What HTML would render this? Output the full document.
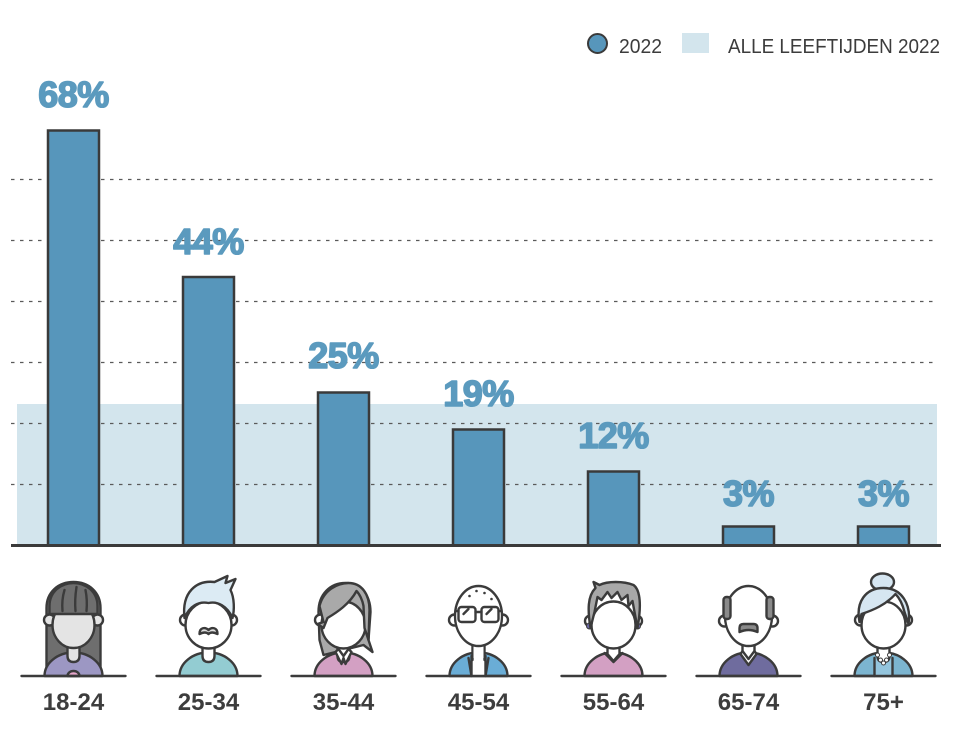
<!DOCTYPE html>
<html><head><meta charset="utf-8"><style>
html,body{margin:0;padding:0;background:#fff;}
svg{display:block;}
.pct{font-family:"Liberation Sans",sans-serif;font-weight:bold;font-size:36px;fill:#5b9abe;stroke:#5b9abe;stroke-width:1.6;stroke-linejoin:round;text-anchor:middle;letter-spacing:-0.5px;}
.age{font-family:"Liberation Sans",sans-serif;font-weight:bold;font-size:24px;fill:#3d3d3d;text-anchor:middle;}
.leg{font-family:"Liberation Sans",sans-serif;font-size:20px;fill:#3c3c3c;}
.s{stroke:#3b3b3b;stroke-width:2.4;stroke-linejoin:round;stroke-linecap:round;}
</style></head><body>
<svg width="964" height="734" viewBox="0 0 964 734" xmlns="http://www.w3.org/2000/svg">
<!-- legend -->
<circle cx="597.5" cy="43.5" r="9.5" fill="#5796bb" stroke="#3a3a3a" stroke-width="2"/>
<text class="leg" x="619" y="53" textLength="43" lengthAdjust="spacingAndGlyphs">2022</text>
<rect x="682" y="33" width="27" height="20" fill="#d3e5ed"/>
<text class="leg" x="728" y="53" textLength="212" lengthAdjust="spacingAndGlyphs">ALLE LEEFTIJDEN 2022</text>

<!-- band -->
<rect x="17" y="404" width="920" height="141" fill="#d3e5ed"/>
<!-- gridlines -->
<g stroke="#5a5a5a" stroke-width="1.2" stroke-dasharray="3.5 5.5">
<line x1="11" y1="179.5" x2="937" y2="179.5"/>
<line x1="11" y1="240.5" x2="937" y2="240.5"/>
<line x1="11" y1="301.5" x2="937" y2="301.5"/>
<line x1="11" y1="362.5" x2="937" y2="362.5"/>
<line x1="11" y1="423.5" x2="937" y2="423.5"/>
<line x1="11" y1="484.5" x2="937" y2="484.5"/>
</g>
<!-- bars -->
<g fill="#5796bb" stroke="#3a3a3a" stroke-width="2.5">
<rect x="48" y="130.5" width="51" height="415"/>
<rect x="183" y="277" width="51" height="268.5"/>
<rect x="318" y="392.5" width="51" height="153"/>
<rect x="453" y="429.5" width="51" height="116"/>
<rect x="588" y="471.5" width="51" height="74"/>
<rect x="723" y="526.5" width="51" height="19"/>
<rect x="858" y="526.5" width="51" height="19"/>
</g>
<line x1="11" y1="545.5" x2="941" y2="545.5" stroke="#3a3a3a" stroke-width="3"/>
<!-- value labels -->
<text class="pct" x="73.5" y="107">68%</text>
<text class="pct" x="208.5" y="254">44%</text>
<text class="pct" x="343.5" y="368">25%</text>
<text class="pct" x="478.5" y="406">19%</text>
<text class="pct" x="613.5" y="448">12%</text>
<text class="pct" x="748.5" y="506">3%</text>
<text class="pct" x="883.5" y="506">3%</text>

<!-- avatars -->
<!-- 18-24 -->
<g transform="translate(73.5,0)">
<path class="s" fill="#6e6e6e" d="M-27,670 L-27,608 C-27,592 -15,582 0,582 C15,582 27,592 27,608 L27,670 Z"/>
<path class="s" fill="#9c97c3" d="M-29,676 A29,23.5 0 0 1 29,676 Z"/>
<path class="s" fill="#e4e4e4" d="M-6,640 L-6,656 Q-6,662 0,662 Q6,662 6,656 L6,640"/>
<circle class="s" fill="#e4e4e4" cx="-24" cy="620" r="5.5"/>
<circle class="s" fill="#e4e4e4" cx="24" cy="620" r="5.5"/>
<ellipse class="s" fill="#e4e4e4" cx="0" cy="625" rx="21" ry="23"/>
<path class="s" fill="#6e6e6e" d="M-24,614 L-24,606 C-24,592 -13,583 0,583 C13,583 24,592 24,606 L24,614 Z"/>
<path class="s" fill="none" d="M-9,590 Q-12,600 -11,611 M3,587 Q1,600 2,611 M12,590 Q14,600 13,611"/>
<path class="s" fill="#e7a6cb" d="M-6,676 A6,5 0 0 1 6,676 Z"/>
<line class="s" x1="-52" y1="676" x2="52" y2="676" stroke-width="2.6"/>
</g>
<!-- 25-34 -->
<g transform="translate(208.5,0)">
<path class="s" fill="#93ccd2" d="M-29,676 A29,23.5 0 0 1 29,676 Z"/>
<path class="s" fill="#fff" d="M-6,640 L-6,656 Q-6,662 0,662 Q6,662 6,656 L6,640"/>
<circle class="s" fill="#fff" cx="-23" cy="620" r="5.5"/>
<circle class="s" fill="#fff" cx="23" cy="620" r="5.5"/>
<ellipse class="s" fill="#fff" cx="0" cy="625" rx="23" ry="23.5"/>
<path class="s" fill="#dcebf4" d="M-24,618 C-27,592 -12,580 6,582 L19,576 L17,583 L27,579 L22,590 C26,598 26,610 24,618 C19,606 9,601 0,603 C-10,601 -19,606 -24,618 Z"/>
<path class="s" fill="#dedede" stroke-width="2" d="M-9,634 C-9,627 -3,627 0,630 C3,627 9,627 9,634 C5,632 2,632 0,634 C-2,632 -5,632 -9,634 Z"/>
<line class="s" x1="-52" y1="676" x2="52" y2="676" stroke-width="2.6"/>
</g>
<!-- 35-44 -->
<g transform="translate(343.5,0)">
<path class="s" fill="#a9a9a9" d="M-20,655 L-24,640 L-25,612 C-25,594 -13,583 2,583 C16,583 27,594 27,612 L25,640 L29,652 L20,645 Z"/>
<path class="s" fill="#d3a0c3" d="M-29,676 A29,23.5 0 0 1 29,676 Z"/>
<path class="s" fill="#fff" d="M-6,640 L-6,656 Q-6,662 0,662 Q6,662 6,656 L6,640"/>
<path class="s" fill="#fff" d="M-8,652 L-2,664 L0,658 L2,664 L8,652 L5,649 L0,656 L-5,649 Z" stroke-width="1.8"/>
<circle class="s" fill="#fff" cx="-23" cy="620" r="5.5"/>
<ellipse class="s" fill="#fff" cx="0" cy="625" rx="22" ry="23.5"/>
<path class="s" fill="#a9a9a9" d="M-26,624 L-20,622 L-24,606 C-20,590 -6,583 5,583 C18,583 26,594 26,610 L25,640 L21,628 L20,606 C19,600 16,594 13,591 C6,604 -6,612 -16,618 L-20,628 Z"/>
<line class="s" x1="-52" y1="676" x2="52" y2="676" stroke-width="2.6"/>
</g>
<!-- 45-54 -->
<g transform="translate(478.5,0)">
<path class="s" fill="#6aadd6" d="M-29,676 A29,23.5 0 0 1 29,676 Z"/>
<path d="M-7,656 L-7,676 L7,676 L7,656 Z" fill="#fff"/>
<path class="s" fill="none" stroke-width="1.8" d="M-7,656 L-7,676 M7,656 L7,676 M-10,658 L-7,676 M10,658 L7,676"/>
<path class="s" fill="#fff" d="M-6,640 L-6,660 M6,640 L6,660"/>
<rect x="-5" y="640" width="10" height="18" fill="#fff"/>
<circle class="s" fill="#fff" cx="-24" cy="620" r="5.5"/>
<circle class="s" fill="#fff" cx="24" cy="620" r="5.5"/>
<ellipse class="s" fill="#fff" cx="0" cy="616" rx="23.5" ry="30"/>
<g fill="#3b3b3b"><circle cx="-9" cy="596" r="1.3"/><circle cx="-2" cy="591" r="1.3"/><circle cx="6" cy="593" r="1.3"/><circle cx="13" cy="599" r="1.3"/></g>
<rect class="s" fill="none" x="-20" y="607" width="17" height="15" rx="3"/>
<rect class="s" fill="none" x="3" y="607" width="17" height="15" rx="3"/>
<path class="s" fill="none" d="M-3,612 L3,612 M-20,611 L-23,611 M20,611 L23,611"/>
<path class="s" fill="none" stroke-width="1.5" d="M-15,614 L-10,609 M8,614 L13,609"/>
<line class="s" x1="-52" y1="676" x2="52" y2="676" stroke-width="2.6"/>
</g>
<!-- 55-64 -->
<g transform="translate(613.5,0)">
<path class="s" fill="#d3a0c3" d="M-29,676 A29,23.5 0 0 1 29,676 Z"/>
<path class="s" fill="#fff" d="M-6,640 L-6,654 L0,661 L6,654 L6,640"/>
<path class="s" fill="none" d="M-9,653 L0,662 L9,653"/>
<circle class="s" fill="#fff" cx="-23" cy="621" r="5.5"/>
<circle class="s" fill="#fff" cx="23" cy="621" r="5.5"/>
<circle cx="-24" cy="626" r="3" fill="#6e6aa6" stroke="#3b3b3b" stroke-width="1"/>
<circle cx="24" cy="626" r="3" fill="#6e6aa6" stroke="#3b3b3b" stroke-width="1"/>
<ellipse class="s" fill="#fff" cx="0" cy="625" rx="22" ry="23.5"/>
<path class="s" fill="#a8a8a8" d="M-23,628 C-26,610 -26,596 -18,588 L-20,582 L-14,585 C-6,581 10,581 20,585 C27,590 28,606 24,628 L21,612 L19,601 L15,606 L14,595 L8,600 L4,592 L-2,598 L-6,592 L-12,600 L-16,597 L-19,612 Z"/>
<line class="s" x1="-52" y1="676" x2="52" y2="676" stroke-width="2.6"/>
</g>
<!-- 65-74 -->
<g transform="translate(748.5,0)">
<path class="s" fill="#6f6c9e" d="M-29,676 A29,23.5 0 0 1 29,676 Z"/>
<path class="s" fill="#fff" d="M-6,640 L-6,656 L0,664 L6,656 L6,640"/>
<path class="s" fill="#fff" stroke-width="1.8" d="M-8,654 L0,665 L8,654 L6,651 L0,659 L-6,651 Z"/>
<circle class="s" fill="#fff" cx="-24" cy="621" r="5.5"/>
<circle class="s" fill="#fff" cx="24" cy="621" r="5.5"/>
<ellipse class="s" fill="#fff" cx="0" cy="616" rx="23.5" ry="30"/>
<rect class="s" fill="#8a8a8a" x="-25" y="597" width="7" height="22" rx="3"/>
<rect class="s" fill="#8a8a8a" x="18" y="597" width="7" height="22" rx="3"/>
<path class="s" fill="#8a8a8a" stroke-width="2" d="M-9,632 L-9,628 Q-9,624 -5,624 L5,624 Q9,624 9,628 L9,632 Q0,628 -9,632 Z"/>
<line class="s" x1="-52" y1="676" x2="52" y2="676" stroke-width="2.6"/>
</g>
<!-- 75+ -->
<g transform="translate(883.5,0)">
<path class="s" fill="#7cb5d0" d="M-29,676 A29,23.5 0 0 1 29,676 Z"/>
<path d="M-9,658 L-9,676 L9,676 L9,658 Z" fill="#94c5dd"/>
<path class="s" fill="none" stroke-width="1.8" d="M-9,658 L-9,676 M9,658 L9,676"/>
<path class="s" fill="#fff" d="M-6,640 L-6,656 Q-6,662 0,662 Q6,662 6,656 L6,640"/>
<g fill="#fff" stroke="#3b3b3b" stroke-width="1"><circle cx="-6" cy="655" r="2"/><circle cx="-3" cy="660" r="2"/><circle cx="3" cy="660" r="2"/><circle cx="6" cy="655" r="2"/><circle cx="0" cy="663" r="2"/></g>
<circle class="s" fill="#fff" cx="-23" cy="620" r="5.5"/>
<circle class="s" fill="#fff" cx="23" cy="620" r="5.5"/>
<ellipse class="s" fill="#d6e6f1" cx="-1" cy="582" rx="11.5" ry="8.5"/>
<ellipse class="s" fill="#fff" cx="0" cy="625" rx="22" ry="23.5"/>
<path class="s" fill="#d6e6f1" d="M-24,622 C-28,602 -18,588 0,588 C18,588 28,604 25,624 L21,612 C19,604 16,598 12,594 C2,605 -10,610 -22,614 Z"/>
<line class="s" x1="-52" y1="676" x2="52" y2="676" stroke-width="2.6"/>
</g>

<!-- age labels -->
<text class="age" x="73.5" y="710">18-24</text>
<text class="age" x="208.5" y="710">25-34</text>
<text class="age" x="343.5" y="710">35-44</text>
<text class="age" x="478.5" y="710">45-54</text>
<text class="age" x="613.5" y="710">55-64</text>
<text class="age" x="748.5" y="710">65-74</text>
<text class="age" x="883.5" y="710">75+</text>
</svg>
</body></html>
